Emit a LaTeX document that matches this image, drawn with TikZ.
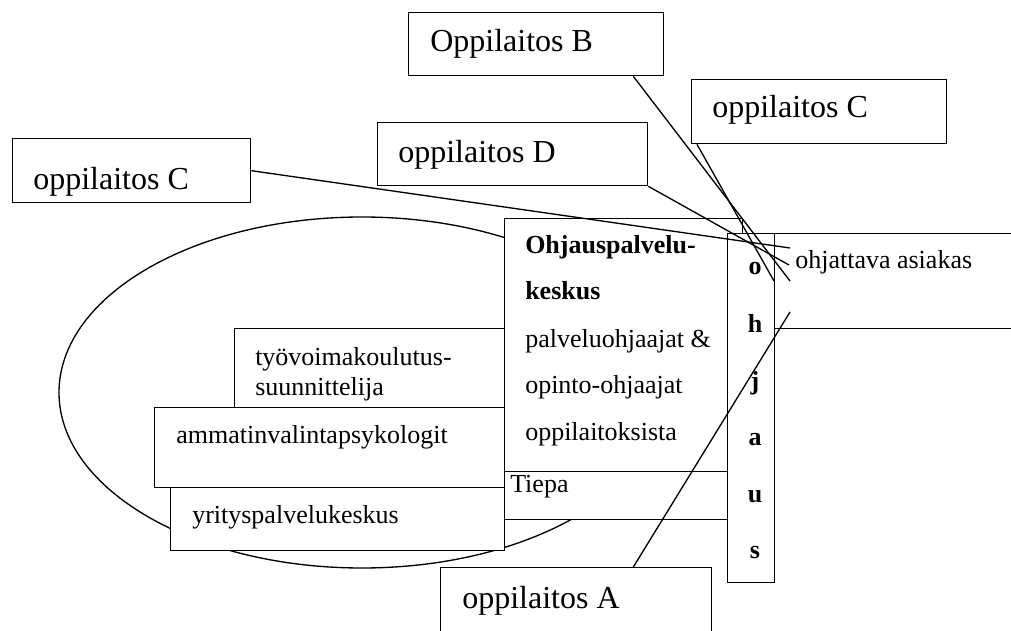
\documentclass[tikz,border=0pt]{standalone}
\usepackage{fontspec}
\setmainfont{Liberation Serif}
\usetikzlibrary{shapes.geometric}
\begin{document}
\begin{tikzpicture}[x=0.75pt,y=-0.75pt,
  box/.style={draw, fill=white, line width=1pt, rectangle, inner sep=0pt, anchor=north west},
  lbl/.style={inner sep=0pt, anchor=base west, font=\fontsize{19.5}{23}\selectfont},
  blbl/.style={inner sep=0pt, anchor=base west, font=\fontsize{19.5}{23}\selectfont\bfseries},
  biglbl/.style={inner sep=0pt, anchor=base west, font=\fontsize{24}{28}\selectfont},
  letter/.style={inner sep=0pt, anchor=base, font=\fontsize{19.5}{23}\selectfont\bfseries},
  conn/.style={line width=1pt}]
\useasboundingbox (0,0) rectangle (1011,631);
\clip (0,0) rectangle (1011,631);
\fill[white] (0,0) rectangle (1011,631);
% oval
\node[draw, ellipse, line width=1pt, inner sep=0pt, minimum width=454.5pt, minimum height=263.25pt] (oval) at (362,392.5) {};
% left boxes
\node[box, minimum width=202.5pt, minimum height=59.25pt] (tyo) at (234,328) {};
\node[box, minimum width=262.5pt, minimum height=60pt] (amm) at (154,407) {};
\node[box, minimum width=250.5pt, minimum height=47.25pt] (yri) at (170,487) {};
% centre boxes
\node[box, minimum width=178.5pt, minimum height=189.75pt] (keskus) at (504,218) {};
\node[box, minimum width=167.25pt, minimum height=36pt] (tiepa) at (504,471) {};
\node[box, minimum width=195pt, minimum height=71.25pt] (asiakas) at (773,233) {};
\node[box, minimum width=35.25pt, minimum height=261.75pt] (ohjaus) at (727,233) {};
% oppilaitos boxes
\node[box, minimum width=191.25pt, minimum height=47.25pt] (oppB) at (408,12) {};
\node[box, minimum width=191.25pt, minimum height=48pt] (oppCR) at (691,79) {};
\node[box, minimum width=202.5pt, minimum height=47.25pt] (oppD) at (377,122) {};
\node[box, minimum width=178.5pt, minimum height=48pt] (oppCL) at (12,138) {};
\node[box, minimum width=203.25pt, minimum height=67.5pt] (oppA) at (440,567) {};
% texts
\node[biglbl] (tB) at (430,52) {Oppilaitos B};
\node[biglbl] (tCR) at (712,118) {oppilaitos C};
\node[biglbl] (tD) at (398,163) {oppilaitos D};
\node[biglbl] (tCL) at (33,190) {oppilaitos C};
\node[biglbl] (tA) at (462,608) {oppilaitos A};
\node[lbl] (tTyo1) at (255,365) {työvoimakoulutus-};
\node[lbl] (tTyo2) at (255,395) {suunnittelija};
\node[lbl] (tAmm) at (176,443) {ammatinvalintapsykologit};
\node[lbl] (tYri) at (192,523) {yrityspalvelukeskus};
\node[blbl] (tK1) at (525,253) {Ohjauspalvelu-};
\node[blbl] (tK2) at (525,300) {keskus};
\node[lbl] (tK3) at (525,347) {palveluohjaajat \&};
\node[lbl] (tK4) at (525,393) {opinto-ohjaajat};
\node[lbl] (tK5) at (525,440) {oppilaitoksista};
\node[lbl] (tTiepa) at (510,492) {Tiepa};
\node[lbl] (tAs) at (795,268) {ohjattava asiakas};
\node[letter] (l1) at (755,275) {o};
\node[letter] (l2) at (755,332) {h};
\node[letter] (l3) at (755,389) {j};
\node[letter] (l4) at (755,445) {a};
\node[letter] (l5) at (755,502) {u};
\node[letter] (l6) at (755,558) {s};
% connector ends
\coordinate (eCL) at (790,248);
\coordinate (eD) at (789,265);
\coordinate (eB) at (790,281);
\coordinate (eCR) at (774,281);
\coordinate (eA) at (790,312);
% connectors
\draw[conn] (oppCL.east) -- (eCL);
\draw[conn] (oppD.south east) -- (eD);
\draw[conn] ([xshift=-23.25pt]oppB.south east) -- (eB);
\draw[conn] ([xshift=4.5pt]oppCR.south west) -- (eCR);
\draw[conn] ([xshift=-59.25pt]oppA.north east) -- (eA);
\end{tikzpicture}
\end{document}
